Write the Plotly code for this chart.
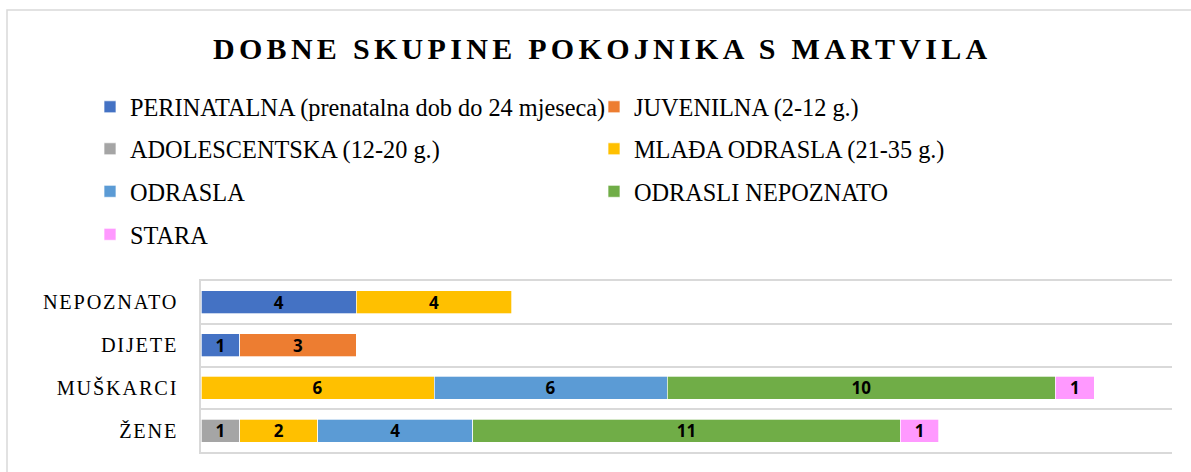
import plotly.graph_objects as go

categories = ["ŽENE", "MUŠKARCI", "DIJETE", "NEPOZNATO"]

series_names = [
    "PERINATALNA (prenatalna dob do 24 mjeseca)",
    "JUVENILNA (2-12 g.)",
    "ADOLESCENTSKA (12-20 g.)",
    "MLAĐA ODRASLA (21-35 g.)",
    "ODRASLA",
    "ODRASLI NEPOZNATO",
    "STARA",
]

perinatalna = [None, None, 1, 4]
juvenilna = [None, None, 3, None]
adolescentska = [1, None, None, None]
mlada_odrasla = [2, 6, None, 4]
odrasla = [4, 6, None, None]
odrasli_nepoznato = [11, 10, None, None]
stara = [1, 1, None, None]

series_values = [perinatalna, juvenilna, adolescentska, mlada_odrasla,
                 odrasla, odrasli_nepoznato, stara]
colors = ["#4472C4", "#ED7D31", "#A5A5A5", "#FFC000", "#5B9BD5", "#70AD47", "#FF99FF"]
legend_ids = ["legend", "legend", "legend2", "legend2", "legend3", "legend3", "legend4"]

title_text = "DOBNE SKUPINE POKOJNIKA S MARTVILA"

W, H = 1191, 472
L, R, T, B = 201, 1172, 281, 452


def px_x(p):
    return (p - L) / (R - L)


def px_y(p):
    return (B - p) / (B - T)


fig = go.Figure()
for name, vals, col, lg in zip(series_names, series_values, colors, legend_ids):
    fig.add_trace(go.Bar(
        y=categories, x=vals, name=name, orientation="h",
        marker=dict(color=col, line=dict(color="white", width=0.7)),
        texttemplate="<b>%{x}</b>", textposition="inside",
        insidetextanchor="middle", textangle=0, constraintext="none",
        textfont=dict(family="Open Sans", size=17, color="black"),
        legend=lg, hoverinfo="skip",
    ))

leg_font = dict(family="Liberation Serif", size=24.3, color="black")
leg_common = dict(orientation="h", xanchor="left", yanchor="middle",
                  font=leg_font, bgcolor="rgba(0,0,0,0)", entrywidth=459,
                  entrywidthmode="pixels", itemwidth=30, traceorder="normal")
row_y = [107.0, 149.0, 191.5, 234.5]
legx = px_x(90)

tick_text = ['<span style="letter-spacing:1.8px">%s</span>' % c for c in categories]

fig.update_layout(
    width=W, height=H,
    margin=dict(l=L, r=W - R, t=T, b=H - B, autoexpand=False),
    paper_bgcolor="white", plot_bgcolor="white",
    barmode="stack", bargap=0.46,
    title=dict(text='<span style="letter-spacing:4.3px"><b>%s</b></span>' % title_text,
               font=dict(family="Liberation Serif", size=30, color="black"),
               xref="container", yref="container", x=213 / W, xanchor="left",
               y=1 - 48 / H, yanchor="middle"),
    legend=dict(x=legx, y=px_y(row_y[0]), **leg_common),
    legend2=dict(x=legx, y=px_y(row_y[1]), **leg_common),
    legend3=dict(x=legx, y=px_y(row_y[2]), **leg_common),
    legend4=dict(x=legx, y=px_y(row_y[3]), **leg_common),
    xaxis=dict(range=[0, 25], showgrid=False, zeroline=False, showticklabels=False,
               showline=True, mirror=True, linecolor="#D9D9D9", linewidth=1.5,
               fixedrange=True),
    yaxis=dict(type="category", categoryorder="array", categoryarray=categories,
               tickmode="array", tickvals=categories, ticktext=tick_text,
               tickson="boundaries", showgrid=True, gridcolor="#D9D9D9", gridwidth=1.5,
               showline=True, linecolor="#D9D9D9", linewidth=1.5, ticks="",
               ticklabelstandoff=17,
               tickfont=dict(family="Liberation Serif", size=20.3, color="black"),
               range=[-0.5, 3.5], fixedrange=True),
    shapes=[dict(type="rect", xref="paper", yref="paper",
                 x0=px_x(7), x1=px_x(1200), y0=px_y(480), y1=px_y(10),
                 line=dict(color="#D9D9D9", width=1.5), fillcolor="rgba(0,0,0,0)",
                 layer="below")],
    showlegend=True,
)

fig.write_html("out.html", config={"displayModeBar": False},
               post_script="document.body.style.margin='0px';")
